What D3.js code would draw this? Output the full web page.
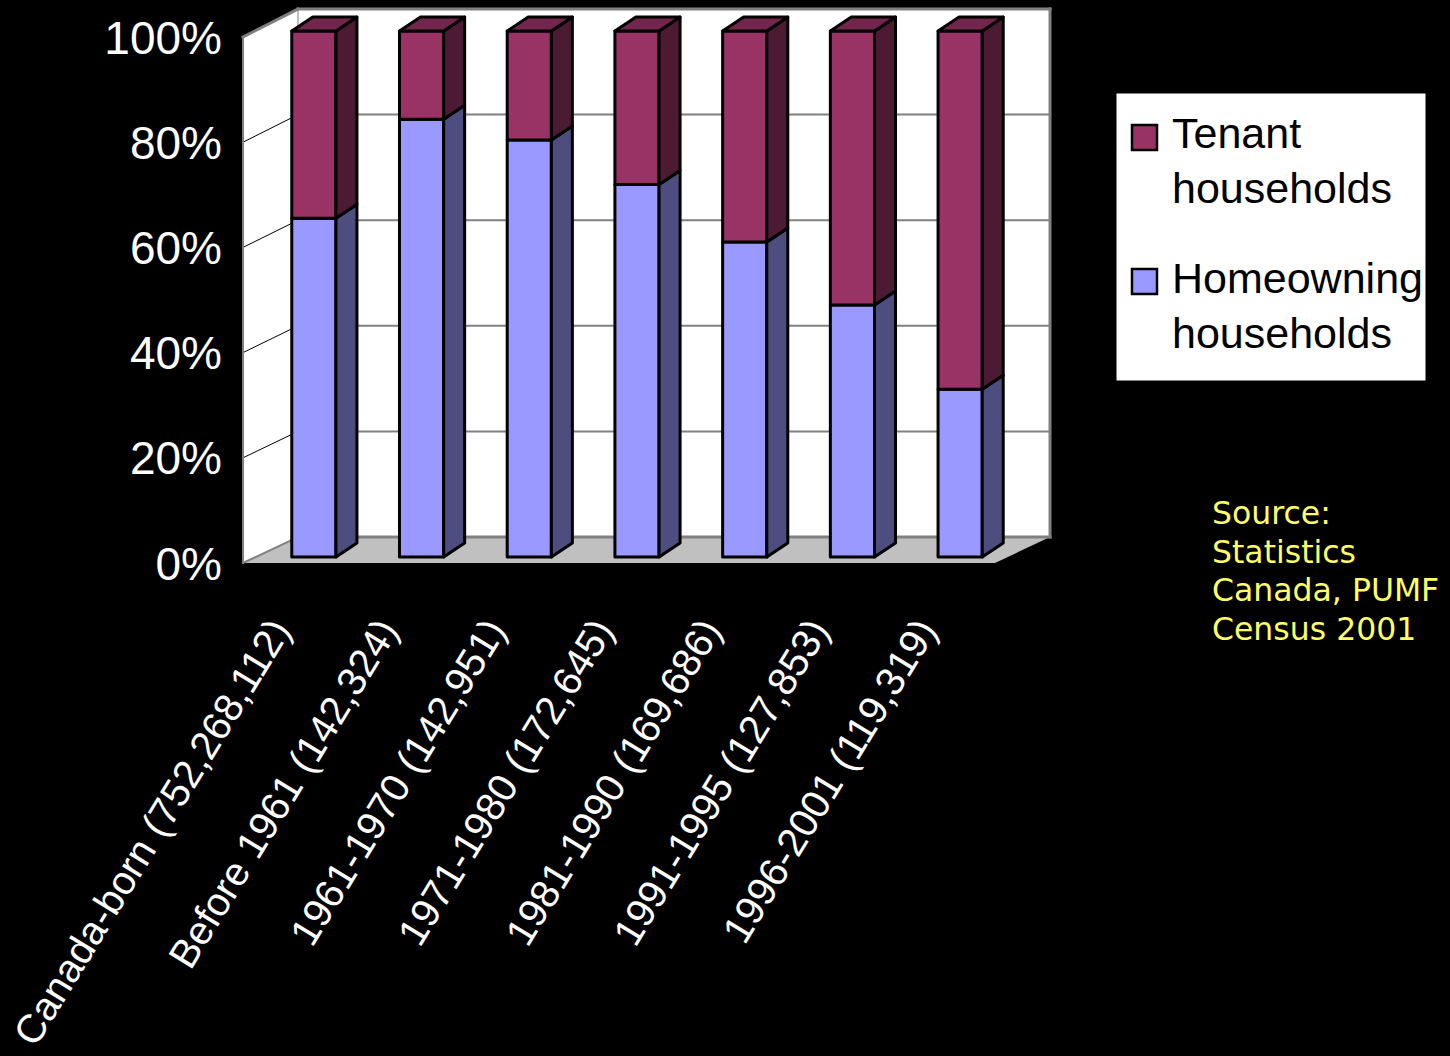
<!DOCTYPE html>
<html>
<head>
<meta charset="utf-8">
<script src="https://cdn.jsdelivr.net/npm/d3@7"></script>
<style>
  html, body { margin: 0; padding: 0; background: #000; }
  svg { display: block; }
</style>
</head>
<body>
<svg id="chart" width="1450" height="1056"></svg>
<script>
// Period of immigration (number of people in households)
const categories = [
  "Canada-born (752,268,112)",
  "Before 1961 (142,324)",
  "1961-1970 (142,951)",
  "1971-1980 (172,645)",
  "1981-1990 (169,686)",
  "1991-1995 (127,853)",
  "1996-2001 (119,319)"
];
// Share of households, percent
const homeowning = [64.4, 83.2, 79.3, 70.8, 59.9, 47.9, 31.9];
const tenant     = [35.6, 16.8, 20.7, 29.2, 40.1, 52.1, 68.1];
const seriesNames = ["Tenant households", "Homeowning households"];
const yTicks = [0, 20, 40, 60, 80, 100];

const colors = {
  homeowning: { front: "#9999FF", side: "#4D4D80", top: "#7373BF" },
  tenant:     { front: "#993366", side: "#4D1A33", top: "#73264D" }
};

const svg = d3.select("#chart");

// 3-D box: front plane, back plane (walls), and bar plane
const xFront = d3.scaleLinear().domain([0, 1]).range([243, 995]);
const xBack  = d3.scaleLinear().domain([0, 1]).range([298, 1050]);
const yFront = d3.scaleLinear().domain([0, 100]).range([563, 37]);
const yBack  = d3.scaleLinear().domain([0, 100]).range([537, 9]);

const x = d3.scaleBand().domain(categories).range([260, 1014]).paddingInner(0.59).paddingOuter(0.295);
const y = d3.scaleLinear().domain([0, 100]).range([557, 31]);
const depth = { dx: 21, dy: -14 };

// Walls and floor
const gWalls = svg.append("g");
const poly = pts => pts.map(p => p.join(",")).join(" ");

gWalls.append("polygon") // back wall
  .attr("points", poly([[xBack(0), yBack(100)], [xBack(1), yBack(100)], [xBack(1), yBack(0)], [xBack(0), yBack(0)]]))
  .attr("fill", "#fff");
gWalls.append("polygon") // side wall
  .attr("points", poly([[xFront(0), yFront(100)], [xBack(0), yBack(100)], [xBack(0), yBack(0)], [xFront(0), yFront(0)]]))
  .attr("fill", "#fff");
gWalls.append("polygon") // floor
  .attr("points", poly([[xFront(0), yFront(0)], [xBack(0), yBack(0)], [xBack(1), yBack(0)], [xFront(1), yFront(0)]]))
  .attr("fill", "#C0C0C0");

// Gridlines
const inner = yTicks.filter(t => t > 0 && t < 100);
gWalls.selectAll("line.grid-back").data(inner).join("line")
  .attr("x1", xBack(0)).attr("x2", xBack(1))
  .attr("y1", d => yBack(d)).attr("y2", d => yBack(d))
  .attr("stroke", "#808080").attr("stroke-width", 2);
gWalls.selectAll("line.grid-side").data(inner).join("line")
  .attr("x1", xFront(0)).attr("x2", xBack(0))
  .attr("y1", d => yFront(d)).attr("y2", d => yBack(d))
  .attr("stroke", "#000").attr("stroke-width", 1);

// Wall edges
const edge = (x1, y1, x2, y2, w) => gWalls.append("line")
  .attr("x1", x1).attr("y1", y1).attr("x2", x2).attr("y2", y2)
  .attr("stroke", "#808080").attr("stroke-width", w).attr("stroke-linecap", "square");
edge(xFront(0), yFront(100), xBack(0), yBack(100), 3);
edge(xBack(0), yBack(100), xBack(1), yBack(100), 3);
edge(xBack(1), yBack(100), xBack(1), yBack(0), 3);
edge(xBack(0), yBack(100), xBack(0), yBack(0), 1);
edge(xFront(0), yFront(100), xFront(0), yFront(0), 2);
edge(xBack(0), yBack(0), xBack(1), yBack(0), 3);
edge(xFront(0), yFront(0), xBack(0), yBack(0), 2);

// Y axis labels
svg.append("g").selectAll("text").data(yTicks).join("text")
  .attr("x", 222).attr("y", d => yFront(d))
  .attr("dy", "0.36em")
  .attr("text-anchor", "end")
  .attr("font-family", "'Liberation Sans', Arial, sans-serif")
  .attr("font-size", 46)
  .attr("fill", "#fff")
  .text(d => d + "%");

// Stacked bars
const rows = categories.map((c, i) => ({ cat: c, homeowning: homeowning[i], tenant: tenant[i] }));
const stack = d3.stack().keys(["homeowning", "tenant"])(rows);

const gBars = svg.append("g")
  .attr("stroke", "#000").attr("stroke-width", 3).attr("stroke-linejoin", "round");

stack.forEach(layer => {
  const key = layer.key;
  const c = colors[key];
  layer.forEach((d, i) => {
    const x0 = x(d.data.cat), x1 = x0 + x.bandwidth();
    const yb = y(d[0]), yt = y(d[1]);
    const g = gBars.append("g");
    g.append("polygon")
      .attr("points", poly([[x0, yt], [x1, yt], [x1, yb], [x0, yb]]))
      .attr("fill", c.front);
    g.append("polygon")
      .attr("points", poly([[x1, yt], [x1 + depth.dx, yt + depth.dy], [x1 + depth.dx, yb + depth.dy], [x1, yb]]))
      .attr("fill", c.side);
    if (key === "tenant") {
      g.append("polygon")
        .attr("points", poly([[x0, yt], [x0 + depth.dx, yt + depth.dy], [x1 + depth.dx, yt + depth.dy], [x1, yt]]))
        .attr("fill", c.top);
    }
  });
});

// Category labels
svg.append("g").selectAll("text").data(categories).join("text")
  .attr("transform", d => `translate(${x(d) + x.bandwidth() / 2 - 22},${630}) rotate(-58.5)`)
  .attr("text-anchor", "end")
  .attr("font-family", "'Liberation Sans', Arial, sans-serif")
  .attr("font-size", 40)
  .attr("fill", "#fff")
  .text(d => d);

// Legend
const legend = svg.append("g");
legend.append("rect")
  .attr("x", 1116).attr("y", 93).attr("width", 310).attr("height", 288)
  .attr("fill", "#fff").attr("stroke", "#000").attr("stroke-width", 1);
const legendItems = [
  { name: seriesNames[0], color: colors.tenant.front, y: 125, lines: [148, 203] },
  { name: seriesNames[1], color: colors.homeowning.front, y: 269, lines: [293, 348] }
];
legendItems.forEach(item => {
  legend.append("rect")
    .attr("x", 1132).attr("y", item.y).attr("width", 25).attr("height", 25)
    .attr("fill", item.color).attr("stroke", "#000").attr("stroke-width", 2.5);
  const words = item.name.split(" ");
  words.forEach((w, k) => {
    legend.append("text")
      .attr("x", 1172).attr("y", item.lines[k])
      .attr("font-family", "'Liberation Sans', Arial, sans-serif")
      .attr("font-size", 43)
      .attr("fill", "#000")
      .text(w);
  });
});

// Source note
const sourceLines = ["Source:", "Statistics", "Canada, PUMF", "Census 2001"];
svg.append("g").selectAll("text").data(sourceLines).join("text")
  .attr("x", 1212).attr("y", (d, i) => 524 + i * 38.5)
  .attr("font-family", "'DejaVu Sans', Verdana, sans-serif")
  .attr("font-size", 31.5)
  .attr("fill", "#FFFF66")
  .text(d => d);
</script>
</body>
</html>
